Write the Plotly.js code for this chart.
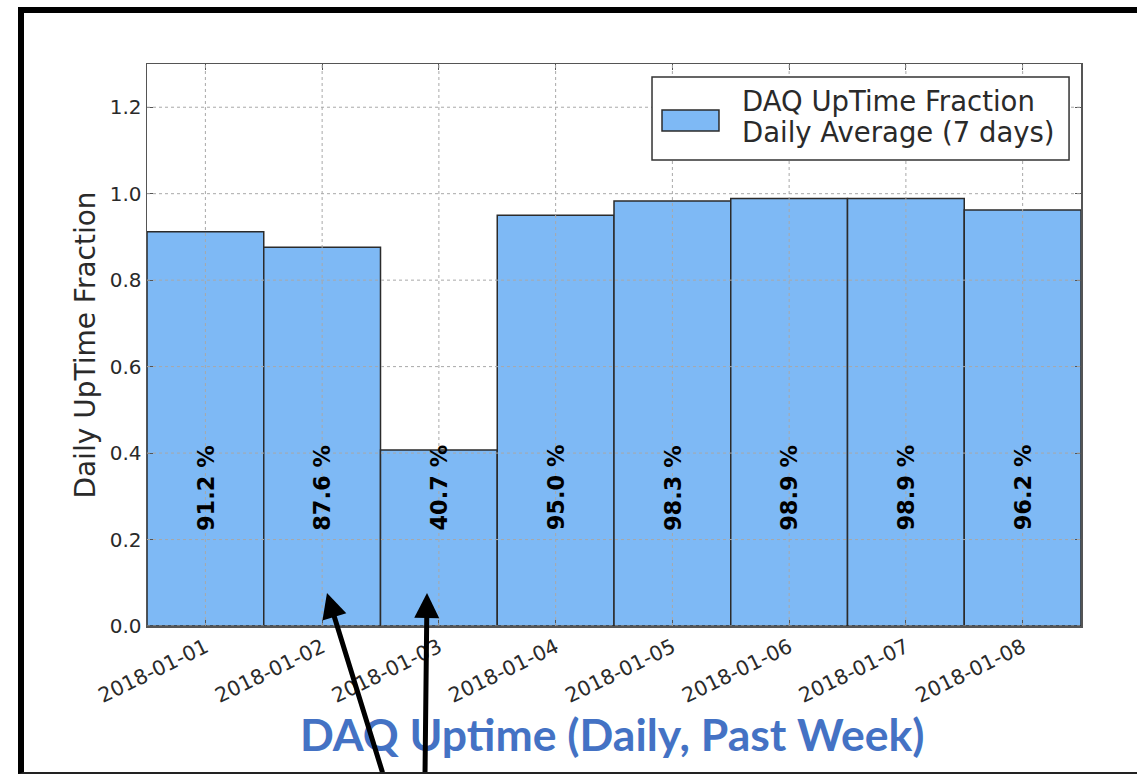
<!DOCTYPE html>
<html>
<head>
<meta charset="utf-8">
<script src="https://cdn.plot.ly/plotly-3.0.1.min.js"></script>
<style>
  html, body { margin: 0; padding: 0; background: #fff; overflow: hidden; }
  #wrap { position: relative; width: 1137px; height: 774px; }
  #chart { width: 1137px; height: 774px; }
  #frame {
    position: absolute; left: 18px; top: 7px; right: -20px; bottom: 0px;
    border-left: 6px solid #000; border-top: 6px solid #000; border-bottom: 2px solid #222;
    pointer-events: none; box-sizing: border-box;
  }
</style>
</head>
<body>
<div id="wrap">
  <div id="chart"></div>
  <div id="frame"></div>
</div>
<script>
// ---- data ----
const dates = ['2018-01-01','2018-01-02','2018-01-03','2018-01-04','2018-01-05','2018-01-06','2018-01-07','2018-01-08'];
const uptime = [0.912, 0.876, 0.407, 0.950, 0.983, 0.989, 0.989, 0.962];
const yTicks = [0.0, 0.2, 0.4, 0.6, 0.8, 1.0, 1.2];
const legendLines = ['DAQ UpTime Fraction', 'Daily Average (7 days)'];
const chartTitle = 'DAQ Uptime (Daily, Past Week)';
const yTitle = 'Daily UpTime Fraction';

// ---- styles ----
const DAY = 86400000;
const barColor = '#7EB9F5';
const yTickFont = {family: 'DejaVu Sans', size: 20, color: '#2a2a2a'};
const xTickFont = {family: 'DejaVu Sans', size: 20.5, color: '#2a2a2a'};
const gridLine = {color: '#a8a8a8', width: 1, dash: 'dot'};

const trace = {
  type: 'bar',
  x: dates,
  y: uptime,
  width: dates.map(() => DAY),
  marker: {color: barColor, line: {color: '#2b2b2b', width: 1.5}},
  showlegend: false,
  hoverinfo: 'x+y'
};

const shapes = [];
// gridlines drawn above bars (matplotlib style)
dates.forEach(d => shapes.push({type: 'line', xref: 'x', yref: 'paper', x0: d, x1: d, y0: 0, y1: 1, line: gridLine, layer: 'above'}));
yTicks.forEach(v => shapes.push({type: 'line', xref: 'paper', yref: 'y', x0: 0, x1: 1, y0: v, y1: v, line: gridLine, layer: 'above'}));
// custom legend box and patch
shapes.push({type: 'rect', xref: 'paper', yref: 'paper', x0: 0.5407, x1: 0.9872, y0: 0.8292, y1: 0.9769,
  fillcolor: '#fff', line: {color: '#333', width: 1.5}, layer: 'above'});
shapes.push({type: 'rect', xref: 'paper', yref: 'paper', x0: 0.5514, x1: 0.6124, y0: 0.8808, y1: 0.9181,
  fillcolor: barColor, line: {color: '#2b2b2b', width: 1.5}, layer: 'above'});

const annotations = [];
dates.forEach((d, i) => annotations.push({
  x: d, y: 0.32, xref: 'x', yref: 'y', showarrow: false,
  text: (uptime[i] * 100).toFixed(1) + ' %', textangle: -90,
  font: {family: 'DejaVu Sans', size: 22.5, color: '#000', weight: 'bold'},
  xanchor: 'center', yanchor: 'middle'
}));
const legendY = [0.9342, 0.879];
legendLines.forEach((t, i) => annotations.push({
  x: 0.635, y: legendY[i], xref: 'paper', yref: 'paper', showarrow: false,
  text: t, align: 'left', xanchor: 'left', yanchor: 'middle',
  font: {family: 'DejaVu Sans', size: 27.5, color: '#2a2a2a'}
}));
annotations.push({
  x: 0.498, y: -0.192, xref: 'paper', yref: 'paper', showarrow: false,
  text: chartTitle, xanchor: 'center', yanchor: 'middle',
  font: {family: 'Lato', size: 44.5, color: '#4472C4', weight: 'bold'}
});
// pointing arrows
annotations.push({
  x: 0.1927, y: 0.0587, xref: 'paper', yref: 'paper', text: '', showarrow: true,
  ax: 56, ay: 181, axref: 'pixel', ayref: 'pixel',
  arrowhead: 2, arrowsize: 1, arrowwidth: 5, arrowcolor: '#000', standoff: 0, startstandoff: 0
});
annotations.push({
  x: 0.2998, y: 0.0587, xref: 'paper', yref: 'paper', text: '', showarrow: true,
  ax: -2, ay: 181, axref: 'pixel', ayref: 'pixel',
  arrowhead: 2, arrowsize: 1, arrowwidth: 5, arrowcolor: '#000', standoff: 0, startstandoff: 0
});

const layout = {
  width: 1137, height: 774,
  margin: {l: 147, r: 56, t: 64, b: 148, pad: 0},
  paper_bgcolor: '#fff', plot_bgcolor: '#fff',
  bargap: 0,
  showlegend: false,
  xaxis: {
    type: 'date',
    range: ['2017-12-31 12:00', '2018-01-08 12:00'],
    tickvals: dates, ticktext: dates, tickangle: -26,
    tickfont: xTickFont,
    showgrid: false, zeroline: false,
    showline: true, linecolor: '#555', linewidth: 1.5, mirror: 'ticks',
    ticks: 'inside', ticklen: 6, tickcolor: '#555'
  },
  yaxis: {
    range: [0, 1.3],
    tickvals: yTicks, tickformat: '.1f',
    tickfont: yTickFont,
    showgrid: false, zeroline: false,
    showline: true, linecolor: '#555', linewidth: 1.5, mirror: 'ticks',
    ticks: 'inside', ticklen: 6, tickcolor: '#555',
    title: {text: yTitle, font: {family: 'DejaVu Sans', size: 28, color: '#2a2a2a'}, standoff: 6}
  },
  shapes: shapes,
  annotations: annotations
};

Plotly.newPlot('chart', [trace], layout, {displayModeBar: false, staticPlot: true});
</script>
</body>
</html>
